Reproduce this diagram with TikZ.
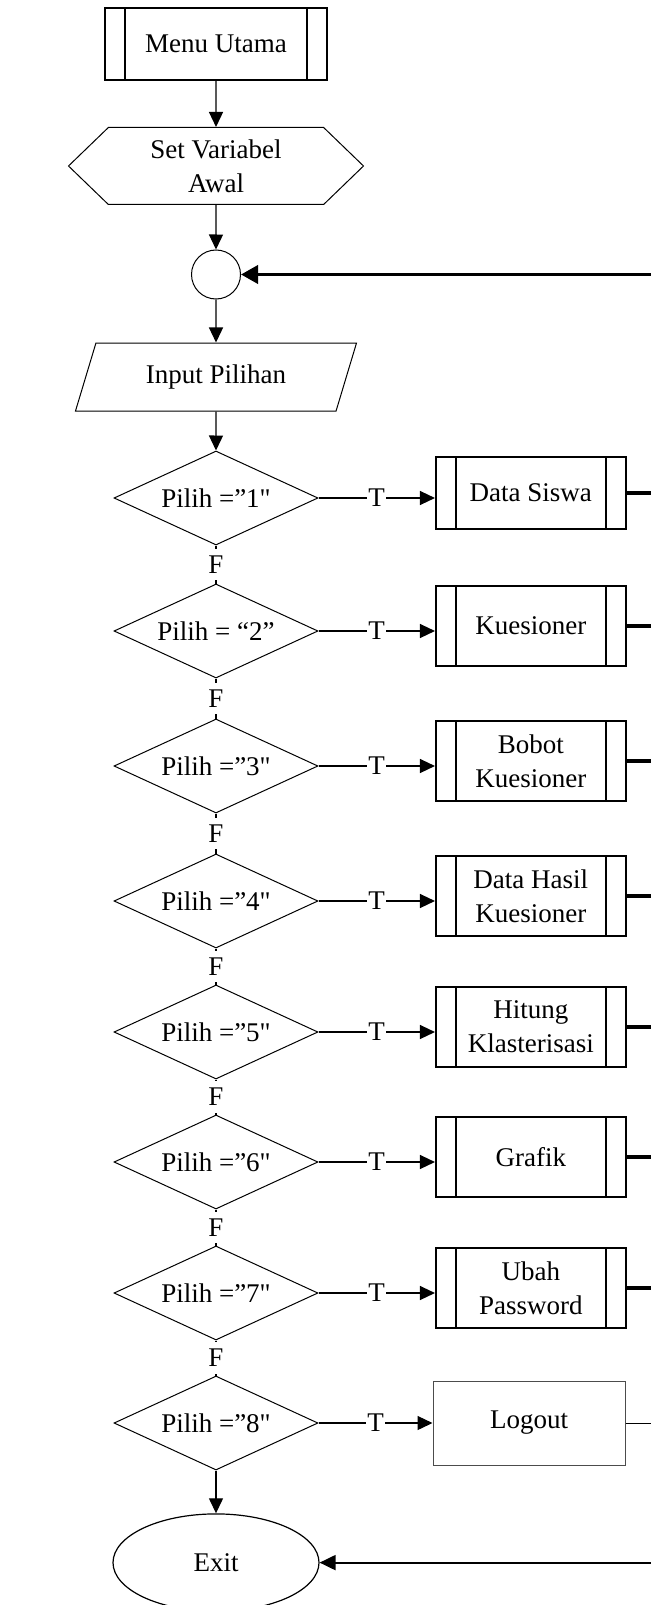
\documentclass[tikz,border=0pt]{standalone}
\usepackage{fontspec}
\setmainfont{Liberation Serif}[Ligatures=TeXOff]
\usetikzlibrary{calc,shapes.geometric,shapes.symbols,arrows.meta}

\tikzset{
    base/.style={font=\fontsize{13.5}{17}\selectfont, align=center, inner sep=0pt},
    proc/.style={base, draw, line width=0.85pt, minimum width=95pt, minimum height=40pt,
        path picture={\draw [line width=0.85pt]
            ($(path picture bounding box.north west)+(10,0)$) -- ($(path picture bounding box.south west)+(10,0)$)
            ($(path picture bounding box.north east)+(-10,0)$) -- ($(path picture bounding box.south east)+(-10,0)$);}},
    cond/.style={base, draw, diamond, aspect=2.17, line width=0.5pt, minimum width=102pt, minimum height=47pt},
    flow/.style={line width=0.65pt},
    flowarrow/.style={flow, -{Triangle[length=7.5pt,width=7pt]}},
    bold/.style={line width=2pt},
    lbl/.style={base, fill=white, inner xsep=0.6pt, inner ysep=3.5pt},
}

\begin{document}
\begin{tikzpicture}[x=1pt,y=-1pt]
            \useasboundingbox (0,0) rectangle (325.5,802.5);
            \fill [white] (0,0) rectangle (325.5,802.5);

            \node (menu) [proc, minimum width=111pt, minimum height=36pt, line width=0.65pt] at (108,22) {Menu Utama};
            \node (set) [base, draw, signal, signal to=west and east, signal pointer angle=88,
                minimum width=147.5pt, minimum height=38.5pt, line width=0.5pt] at (108,83) {Set Variabel\\Awal};
            \node (con) [draw, circle, minimum size=24.5pt, inner sep=0pt, line width=0.5pt] at (108,137.25) {};
            \node (inp) [base, draw, trapezium, trapezium left angle=64, trapezium right angle=116, trapezium stretches=true,
                minimum width=141.5pt, minimum height=34pt, line width=0.5pt] at (108,188.5) {Input Pilihan};

            \coordinate (bus) at (345,0);
            \coordinate (bus2) at (338,0);

            \foreach \n/\y/\c/\b/\h in {1/249/{Pilih =”1"}/{Data Siswa}/36, 2/315.5/{Pilih = “2”}/{Kuesioner}/40,
                    3/383/{Pilih =”3"}/{Bobot\\Kuesioner}/40, 4/450.5/{Pilih =”4"}/{Data Hasil\\Kuesioner}/40,
                    5/516/{Pilih =”5"}/{Hitung\\Klasterisasi}/40, 6/581/{Pilih =”6"}/{Grafik}/40,
                    7/646.5/{Pilih =”7"}/{Ubah\\Password}/40}
                {
                    \node (d\n) [cond] at (108,\y) {\c};
                    \node (b\n) [proc, minimum height=\h pt] at ($(d\n)+(157.4,-2.5)$) {\b};
                    \draw [flowarrow] (d\n.east) -- node [lbl] {T} (d\n.east -| b\n.west);
                    \draw [bold] (b\n.east) -- (b\n.east -| bus);
                }

            \node (d8) [cond] at (108,711.5) {Pilih =”8"};
            \node (b8) [base, draw=black!70, line width=0.5pt, minimum width=96pt, minimum height=42pt] at ($(d8)+(156.5,0)$) {Logout};
            \draw [flowarrow] (d8.east) -- node [lbl] {T} (b8.west);

            \node (ex) [base, draw, ellipse, minimum width=103pt, minimum height=48.7pt, line width=0.6pt] at (108,781.3) {Exit};

            \draw [flowarrow] (menu) -- (set);
            \draw [flowarrow] (set) -- (con);
            \draw [flowarrow] (con) -- (inp);
            \draw [flowarrow] (inp) -- (d1);
            \foreach \a/\b in {1/2,2/3,3/4,4/5,5/6,6/7,7/8}
                \draw [flow] (d\a) -- node [lbl] {F} (d\b);
            \draw [flowarrow] (d8) -- (ex);

            % kembali ke awal
            \draw [line width=1.9pt, -{Triangle[length=8.5pt,width=9pt]}] (bus |- b7.east) -- (bus |- con) -- (con);
            \draw [line width=0.5pt] (b8) -- (b8 -| bus2) -- (bus2 |- ex);
            \draw [line width=1pt, -{Triangle[length=8pt,width=7.5pt]}] (bus2 |- ex) -- (ex);

        \end{tikzpicture}
\end{document}
